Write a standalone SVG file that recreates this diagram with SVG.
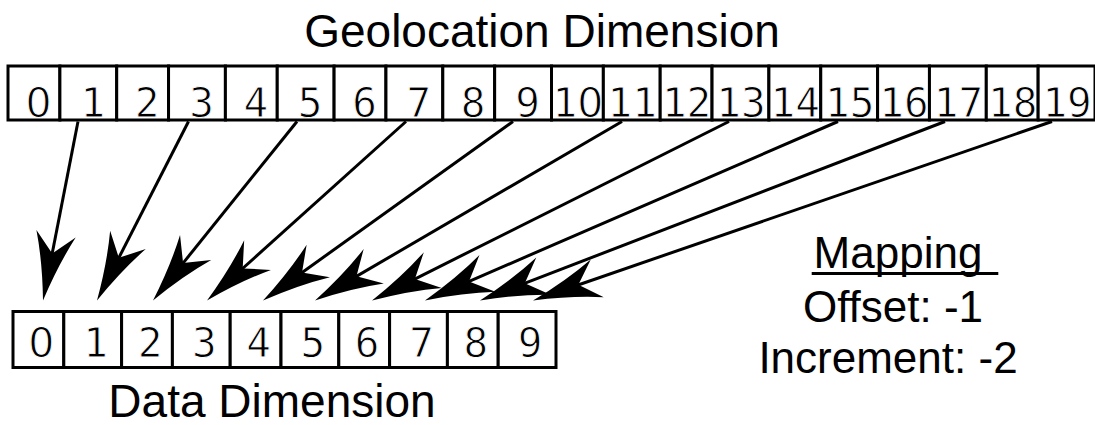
<svg xmlns="http://www.w3.org/2000/svg" width="1095" height="425" viewBox="0 0 1095 425">
<style>
.cell{fill:#fff;stroke:#000;stroke-width:3}
.num{font-family:"DejaVu Sans Mono",monospace;font-size:41px;fill:#000;stroke:#fff;stroke-width:0.9px;text-anchor:middle}
.z{font-family:"DejaVu Sans",sans-serif}
.lbl{font-family:"Liberation Sans",Arial,sans-serif;fill:#000;text-anchor:middle}
.arr{stroke:#000;stroke-width:3;fill:none;marker-end:url(#ah)}
</style>
<defs>
<marker id="ah" markerUnits="userSpaceOnUse" viewBox="0 -21 70 42" markerWidth="70" markerHeight="42" refX="28" refY="0" orient="auto" overflow="visible">
<path d="M68,0 Q30,-8 0,-20 L20,0 L0,20 Q30,8 68,0 Z" fill="#000"/>
</marker>
</defs>
<rect width="1095" height="425" fill="#fff"/>
<text id="title-geo" class="lbl" x="542" y="47" font-size="46">Geolocation Dimension</text>
<g id="geo-0"><rect class="cell" x="8" y="66" width="51.9" height="54"/><text class="num" x="38.5" y="116.5"><tspan class="z">0</tspan></text></g>
<g id="geo-1"><rect class="cell" x="59.9" y="66" width="56.8" height="54"/><text class="num" x="92.8" y="116.5">1</text></g>
<g id="geo-2"><rect class="cell" x="116.7" y="66" width="51.85" height="54"/><text class="num" x="147.1" y="116.5">2</text></g>
<g id="geo-3"><rect class="cell" x="168.55" y="66" width="56.85" height="54"/><text class="num" x="201.5" y="116.5">3</text></g>
<g id="geo-4"><rect class="cell" x="225.4" y="66" width="51.85" height="54"/><text class="num" x="255.8" y="116.5">4</text></g>
<g id="geo-5"><rect class="cell" x="277.25" y="66" width="56.85" height="54"/><text class="num" x="310.2" y="116.5">5</text></g>
<g id="geo-6"><rect class="cell" x="334.1" y="66" width="51.85" height="54"/><text class="num" x="364.5" y="116.5">6</text></g>
<g id="geo-7"><rect class="cell" x="385.95" y="66" width="56.85" height="54"/><text class="num" x="418.9" y="116.5">7</text></g>
<g id="geo-8"><rect class="cell" x="442.8" y="66" width="51.85" height="54"/><text class="num" x="473.2" y="116.5">8</text></g>
<g id="geo-9"><rect class="cell" x="494.65" y="66" width="56.85" height="54"/><text class="num" x="527.6" y="116.5">9</text></g>
<g id="geo-10"><rect class="cell" x="551.5" y="66" width="51.85" height="54"/><text class="num" x="577.9" y="116.5">1<tspan class="z">0</tspan></text></g>
<g id="geo-11"><rect class="cell" x="603.35" y="66" width="56.85" height="54"/><text class="num" x="632.3" y="116.5">11</text></g>
<g id="geo-12"><rect class="cell" x="660.2" y="66" width="51.85" height="54"/><text class="num" x="686.6" y="116.5">12</text></g>
<g id="geo-13"><rect class="cell" x="712.05" y="66" width="56.85" height="54"/><text class="num" x="741" y="116.5">13</text></g>
<g id="geo-14"><rect class="cell" x="768.9" y="66" width="51.85" height="54"/><text class="num" x="795.3" y="116.5">14</text></g>
<g id="geo-15"><rect class="cell" x="820.75" y="66" width="56.85" height="54"/><text class="num" x="849.7" y="116.5">15</text></g>
<g id="geo-16"><rect class="cell" x="877.6" y="66" width="51.85" height="54"/><text class="num" x="904" y="116.5">16</text></g>
<g id="geo-17"><rect class="cell" x="929.45" y="66" width="56.85" height="54"/><text class="num" x="958.4" y="116.5">17</text></g>
<g id="geo-18"><rect class="cell" x="986.3" y="66" width="51.85" height="54"/><text class="num" x="1012.7" y="116.5">18</text></g>
<g id="geo-19"><rect class="cell" x="1038.15" y="66" width="56.85" height="54"/><text class="num" x="1067.1" y="116.5">19</text></g>
<g id="data-0"><rect class="cell" x="13" y="311.5" width="50.8" height="56"/><text class="num" x="41.4" y="356.5"><tspan class="z">0</tspan></text></g>
<g id="data-1"><rect class="cell" x="63.8" y="311.5" width="57.8" height="56"/><text class="num" x="95.7" y="356.5">1</text></g>
<g id="data-2"><rect class="cell" x="121.6" y="311.5" width="50.8" height="56"/><text class="num" x="150" y="356.5">2</text></g>
<g id="data-3"><rect class="cell" x="172.4" y="311.5" width="57.8" height="56"/><text class="num" x="204.3" y="356.5">3</text></g>
<g id="data-4"><rect class="cell" x="230.2" y="311.5" width="50.8" height="56"/><text class="num" x="258.6" y="356.5">4</text></g>
<g id="data-5"><rect class="cell" x="281" y="311.5" width="57.8" height="56"/><text class="num" x="312.9" y="356.5">5</text></g>
<g id="data-6"><rect class="cell" x="338.8" y="311.5" width="50.8" height="56"/><text class="num" x="367.2" y="356.5">6</text></g>
<g id="data-7"><rect class="cell" x="389.6" y="311.5" width="57.8" height="56"/><text class="num" x="421.5" y="356.5">7</text></g>
<g id="data-8"><rect class="cell" x="447.4" y="311.5" width="50.8" height="56"/><text class="num" x="475.8" y="356.5">8</text></g>
<g id="data-9"><rect class="cell" x="498.2" y="311.5" width="57.8" height="56"/><text class="num" x="530.1" y="356.5">9</text></g>
<text id="title-data" class="lbl" x="272" y="417" font-size="46">Data Dimension</text>
<g id="mapping">
<text class="lbl" x="898" y="268" font-size="44">Mapping</text>
<line x1="811.7" y1="273.5" x2="998.3" y2="273.5" stroke="#000" stroke-width="3"/>
<text class="lbl" x="893" y="322" font-size="44">Offset: -1</text>
<text class="lbl" x="888" y="373" font-size="44">Increment: -2</text>
</g>
<g id="connectors">
<line class="arr" x1="78" y1="121.5" x2="50.68" y2="261.24"/>
<line class="arr" x1="188.5" y1="121.5" x2="115.21" y2="264.88"/>
<line class="arr" x1="297" y1="121.5" x2="178.07" y2="269.33"/>
<line class="arr" x1="406" y1="121.5" x2="236.74" y2="273.75"/>
<line class="arr" x1="513" y1="121.5" x2="295.52" y2="277.21"/>
<line class="arr" x1="622" y1="121.5" x2="349.56" y2="280.35"/>
<line class="arr" x1="729" y1="121.5" x2="407.76" y2="282.57"/>
<line class="arr" x1="838" y1="121.5" x2="461.70" y2="284.59"/>
<line class="arr" x1="945" y1="121.5" x2="517.33" y2="286.13"/>
<line class="arr" x1="1052" y1="121.5" x2="570.81" y2="287.46"/>
</g>
</svg>
